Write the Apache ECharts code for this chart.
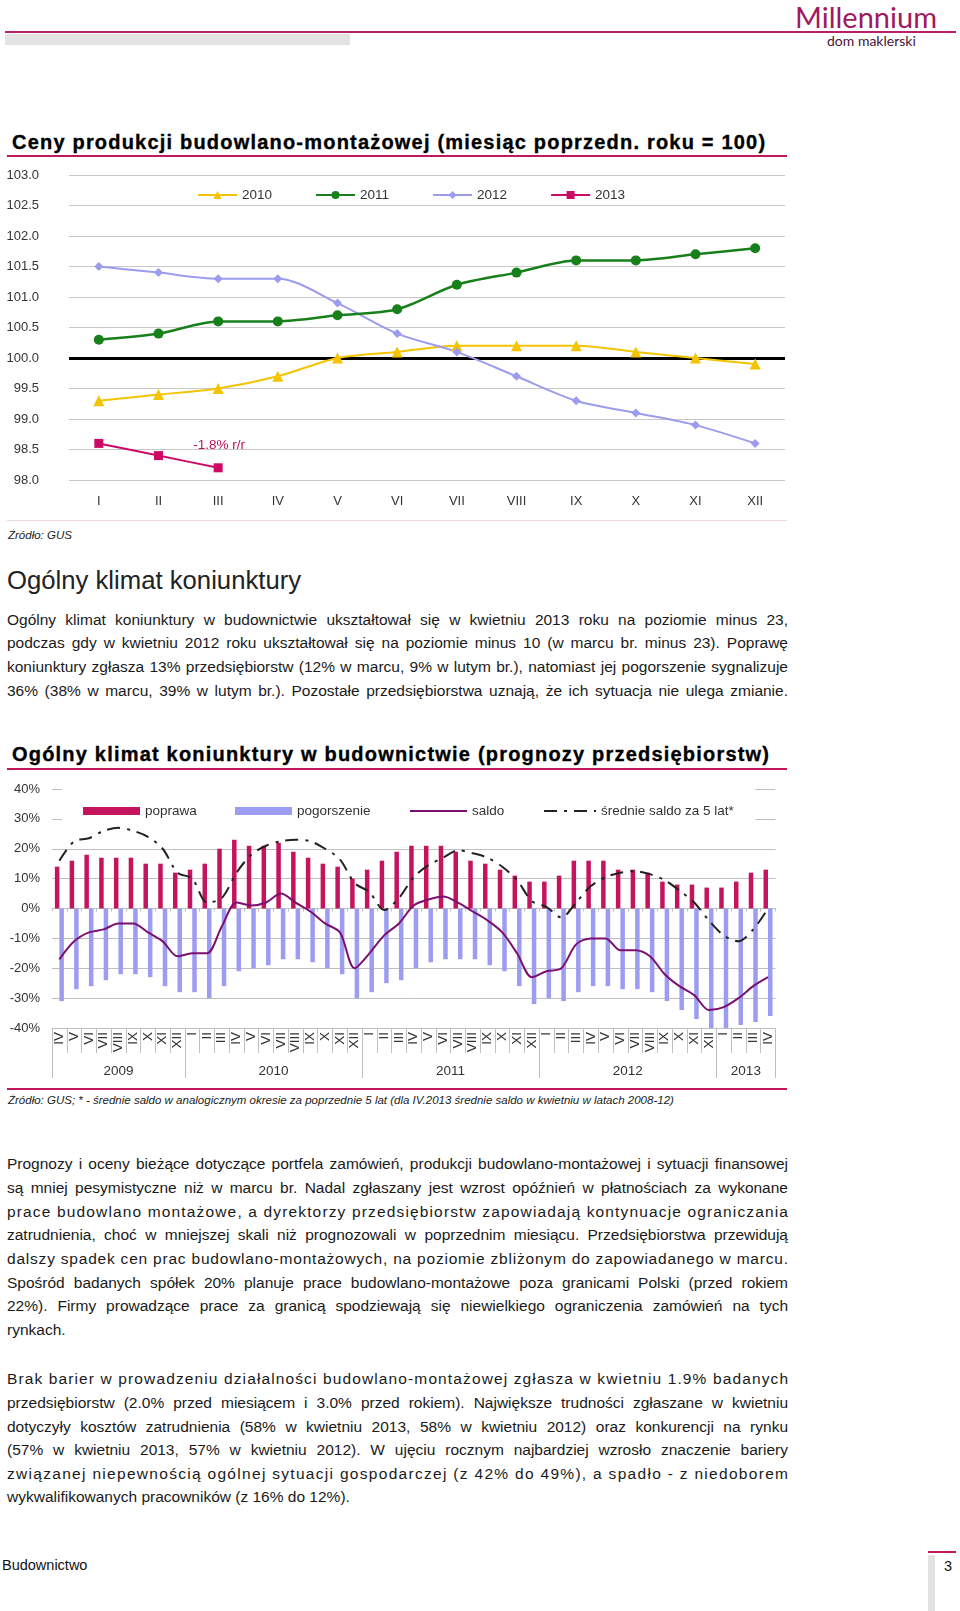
<!DOCTYPE html>
<html><head><meta charset="utf-8">
<script src="https://cdn.jsdelivr.net/npm/echarts/dist/echarts.min.js"></script>
<style>
body{margin:0;width:960px;height:1611px;position:relative;background:#fff;font-family:"Liberation Sans",Arial,sans-serif;color:#1a1a1a;overflow:hidden}
.abs{position:absolute;white-space:nowrap}
.title{position:absolute;left:12px;font-weight:bold;font-size:20px;letter-spacing:1.2px;color:#000;white-space:nowrap;line-height:24px;-webkit-text-stroke:0.35px #000}
.rule{position:absolute;left:7px;width:780px;height:2px;background:#C2185B}
.ln{position:absolute;left:7px;width:781px;font-size:15.5px;white-space:nowrap;line-height:20px;color:#1a1a1a}
.src{position:absolute;left:8px;font-size:11.5px;font-style:italic;color:#222;white-space:nowrap;line-height:14px}
</style></head>
<body>
<!-- header -->
<div class="abs" style="left:795px;top:1px;font-family:Lato,'Noto Sans',sans-serif;font-weight:400;font-size:29px;color:#A0185E;line-height:32px">Millennium</div>
<div style="position:absolute;left:5px;top:31px;width:951px;height:2px;background:#B8206A"></div>
<div style="position:absolute;left:5px;top:34px;width:345px;height:11px;background:#E3E3E3"></div>
<div class="abs" style="left:827px;top:33px;font-family:Lato,'Noto Sans',sans-serif;font-size:14px;color:#4a1535;line-height:15px">dom maklerski</div>

<!-- chart 1 -->
<div class="title" style="top:130px">Ceny produkcji budowlano-montażowej (miesiąc poprzedn. roku = 100)</div>
<div class="rule" style="top:155px"></div>
<div id="c1" style="position:absolute;left:0;top:160px;width:800px;height:358px"></div>
<div style="position:absolute;left:7px;top:520px;width:780px;height:1px;background:#EED8E4"></div>
<div class="src" style="top:528px">Źródło: GUS</div>

<div class="abs" style="left:7px;top:565px;font-size:25.7px;color:#222;line-height:30px">Ogólny klimat koniunktury</div>

<div class="ln jl" style="top:610px"><span>Ogólny klimat koniunktury w budownictwie ukształtował się w kwietniu 2013 roku na poziomie minus 23,</span></div>
<div class="ln jl" style="top:633px"><span>podczas gdy w kwietniu 2012 roku ukształtował się na poziomie minus 10 (w marcu br. minus 23). Poprawę</span></div>
<div class="ln jl" style="top:657px"><span>koniunktury zgłasza 13% przedsiębiorstw (12% w marcu, 9% w lutym br.), natomiast jej pogorszenie sygnalizuje</span></div>
<div class="ln jl" style="top:681px"><span>36% (38% w marcu, 39% w lutym br.). Pozostałe przedsiębiorstwa uznają, że ich sytuacja nie ulega zmianie.</span></div>

<!-- chart 2 -->
<div class="title" style="top:742px">Ogólny klimat koniunktury w budownictwie (prognozy przedsiębiorstw)</div>
<div class="rule" style="top:768px"></div>
<div id="c2" style="position:absolute;left:0;top:770px;width:800px;height:316px"></div>
<div class="rule" style="top:1088px"></div>
<div class="src" style="top:1093px">Źródło: GUS; * - średnie saldo w analogicznym okresie za poprzednie 5 lat (dla IV.2013 średnie saldo w kwietniu w latach 2008-12)</div>

<div class="ln jl" style="top:1154px"><span>Prognozy i oceny bieżące dotyczące portfela zamówień, produkcji budowlano-montażowej i sytuacji finansowej</span></div>
<div class="ln jl" style="top:1178px"><span>są mniej pesymistyczne niż w marcu br. Nadal zgłaszany jest wzrost opóźnień w płatnościach za wykonane</span></div>
<div class="ln jl ls" style="top:1202px"><span>prace budowlano montażowe, a dyrektorzy przedsiębiorstw zapowiadają kontynuacje ograniczania</span></div>
<div class="ln jl" style="top:1225px"><span>zatrudnienia, choć w mniejszej skali niż prognozowali w poprzednim miesiącu. Przedsiębiorstwa przewidują</span></div>
<div class="ln jl ls" style="top:1249px"><span>dalszy spadek cen prac budowlano-montażowych, na poziomie zbliżonym do zapowiadanego w marcu.</span></div>
<div class="ln jl" style="top:1273px"><span>Spośród badanych spółek 20% planuje prace budowlano-montażowe poza granicami Polski (przed rokiem</span></div>
<div class="ln jl" style="top:1296px"><span>22%). Firmy prowadzące prace za granicą spodziewają się niewielkiego ograniczenia zamówień na tych</span></div>
<div class="ln" style="top:1320px"><span>rynkach.</span></div>

<div class="ln jl ls" style="top:1369px"><span>Brak barier w prowadzeniu działalności budowlano-montażowej zgłasza w kwietniu 1.9% badanych</span></div>
<div class="ln jl" style="top:1393px"><span>przedsiębiorstw (2.0% przed miesiącem i 3.0% przed rokiem). Największe trudności zgłaszane w kwietniu</span></div>
<div class="ln jl" style="top:1417px"><span>dotyczyły kosztów zatrudnienia (58% w kwietniu 2013, 58% w kwietniu 2012) oraz konkurencji na rynku</span></div>
<div class="ln jl" style="top:1440px"><span>(57% w kwietniu 2013, 57% w kwietniu 2012). W ujęciu rocznym najbardziej wzrosło znaczenie bariery</span></div>
<div class="ln jl ls" style="top:1464px"><span>związanej niepewnością ogólnej sytuacji gospodarczej (z 42% do 49%), a spadło - z niedoborem</span></div>
<div class="ln" style="top:1487px"><span>wykwalifikowanych pracowników (z 16% do 12%).</span></div>

<!-- footer -->
<div class="abs" style="left:2px;top:1556px;font-size:14.5px;color:#111;line-height:18px">Budownictwo</div>
<div style="position:absolute;left:928px;top:1551px;width:28px;height:2px;background:#C2185B"></div>
<div style="position:absolute;left:928px;top:1555px;width:7px;height:56px;background:#E3E3E3"></div>
<div class="abs" style="left:944px;top:1557px;font-size:14.5px;color:#111;line-height:18px">3</div>

<script>
// ---------- DATA: chart 1 ----------
const months1 = ['I','II','III','IV','V','VI','VII','VIII','IX','X','XI','XII'];
const seriesNames1 = ['2010','2011','2012','2013'];
const y2010 = [99.3, 99.4, 99.5, 99.7, 100.0, 100.1, 100.2, 100.2, 100.2, 100.1, 100.0, 99.9];
const y2011 = [100.3, 100.4, 100.6, 100.6, 100.7, 100.8, 101.2, 101.4, 101.6, 101.6, 101.7, 101.8];
const y2012 = [101.5, 101.4, 101.3, 101.3, 100.9, 100.4, 100.1, 99.7, 99.3, 99.1, 98.9, 98.6];
const y2013 = [98.6, 98.4, 98.2];
const baseline1 = 100;
const annotation2013 = '-1.8% r/r';

// ---------- DATA: chart 2 ----------
const months2 = ['IV','V','VI','VII','VIII','IX','X','XI','XII',
  'I','II','III','IV','V','VI','VII','VIII','IX','X','XI','XII',
  'I','II','III','IV','V','VI','VII','VIII','IX','X','XI','XII',
  'I','II','III','IV','V','VI','VII','VIII','IX','X','XI','XII',
  'I','II','III','IV'];
const years2 = ['2009','2010','2011','2012','2013'];
const monthsPerYear2 = [9, 12, 12, 12, 4];
const poprawa = [14,16,18,17,17,17,15,15,12,
  13,15,20,23,21,21,22,19,17,15,14,10,
  13,16,19,21,21,21,19,16,15,13,11,9,
  9,11,16,16,16,13,13,12,9,8,8,7,
  7,9,12,13];
const pogorszenie = [-31,-27,-26,-24,-22,-22,-23,-26,-28,
  -28,-30,-26,-21,-20,-19,-17,-17,-18,-20,-22,-30,
  -28,-25,-24,-20,-18,-17,-17,-17,-19,-21,-26,-32,
  -30,-31,-28,-26,-26,-27,-27,-28,-31,-34,-37,-41,
  -40,-39,-38,-36];
const saldo = [-17,-11,-8,-7,-5,-5,-8,-11,-16,
  -15,-15,-6,2,1,2,5,2,-1,-5,-8,-20,
  -15,-9,-5,1,3,4,2,-1,-4,-8,-15,-23,
  -21,-20,-12,-10,-10,-14,-14,-16,-22,-26,-29,-34,
  -33,-30,-26,-23];
const srednie = [16,22.5,23.5,26,27,26,24,20,12,
  10,2,3.5,12,18,21,22.5,23,22.5,20,16.5,8.5,
  5.5,-0.5,3.5,10.5,14.5,17,19.5,18.5,17,14,9.5,2.5,
  0.5,-3,2,7.5,10.5,12,12.5,11.5,9.5,6,2,-4,
  -9,-11,-7,0];
const seriesNames2 = ['poprawa','pogorszenie','saldo','średnie saldo za 5 lat*'];

const FONT = '"Liberation Sans", Arial, sans-serif';

// ---------- chart 1 ----------
const c1 = echarts.init(document.getElementById('c1'), null, {renderer:'canvas'});
const col1 = ['#F5C400','#17801A','#9C9CEE','#CC0A66'];
const data2013 = y2013.map((v,i)=> i===y2013.length-1 ? {value:v, label:{show:true, formatter:annotation2013, position:'top', distance:11, offset:[1,0], color:'#C0105A', fontSize:13.5, fontFamily:FONT}} : v);
c1.setOption({
  animation:false,
  textStyle:{fontFamily:FONT},
  grid:{left:69, right:15, top:15, height:305, outerBoundsMode:'none', containLabel:false},
  legend:{data:seriesNames1, left:192, top:23, itemWidth:39, itemHeight:10, itemGap:43,
    textStyle:{fontSize:13.5, color:'#333', fontFamily:FONT}},
  xAxis:{type:'category', data:months1, boundaryGap:true, axisLine:{show:false, onZero:false}, axisTick:{show:false},
    axisLabel:{fontSize:13, color:'#333', margin:15}},
  yAxis:{type:'value', min:98, max:103, interval:0.5,
    axisLabel:{formatter:v=>v.toFixed(1), fontSize:13, color:'#333', margin:30},
    axisLine:{show:false}, axisTick:{show:false}, splitLine:{lineStyle:{color:'#C8C8C8', width:1}}},
  series:[
    {name:'2010', type:'line', data:y2010, smooth:0.3, symbol:'triangle', symbolSize:11,
      lineStyle:{color:col1[0], width:2}, itemStyle:{color:col1[0]}, z:3,
      markLine:{silent:true, symbol:'none', label:{show:false}, lineStyle:{color:'#000', width:3, type:'solid'}, data:[{yAxis:baseline1}], z:2}},
    {name:'2011', type:'line', data:y2011, smooth:0.3, symbol:'circle', symbolSize:10,
      lineStyle:{color:col1[1], width:2.5}, itemStyle:{color:col1[1]}, z:4},
    {name:'2012', type:'line', data:y2012, smooth:0.3, symbol:'diamond', symbolSize:9,
      lineStyle:{color:col1[2], width:2}, itemStyle:{color:col1[2]}, z:3},
    {name:'2013', type:'line', data:data2013, smooth:0.3, symbol:'rect', symbolSize:9,
      lineStyle:{color:col1[3], width:2}, itemStyle:{color:col1[3]}, z:5}
  ]
});

// ---------- chart 2 ----------
const W2 = 800, GL = 52, GR = 24.6;
const band = (W2 - GL - GR) / months2.length;
const yearAxisData = new Array(months2.length).fill('');
const yearBoundaries = new Set();
const halfIdx = new Set();
let start = 0;
years2.forEach((y,k)=>{
  const n = monthsPerYear2[k];
  yearBoundaries.add(start);
  const mid = start + (n-1)/2;
  const idx = Math.floor(mid);
  yearAxisData[idx] = y;
  if (mid !== idx) halfIdx.add(idx);
  start += n;
});
const gridColors = [];
for (let v=-40; v<=40; v+=10) gridColors.push(v>=30 ? 'rgba(0,0,0,0)' : '#BFBFBF');

const c2 = echarts.init(document.getElementById('c2'), null, {renderer:'canvas'});
const legText = {fontSize:13.5, color:'#333', fontFamily:FONT};
const hideSym = {color:'rgba(0,0,0,0)', borderWidth:0, opacity:0};
c2.setOption({
  animation:false,
  textStyle:{fontFamily:FONT},
  grid:{left:GL, right:GR, top:19, height:239, outerBoundsMode:'none', containLabel:false},
  legend:[
    {data:[{name:seriesNames2[0], icon:'rect'}], left:78, top:29, itemWidth:57, itemHeight:8, textStyle:legText},
    {data:[{name:seriesNames2[1], icon:'rect'}], left:230, top:29, itemWidth:57, itemHeight:8, textStyle:legText},
    {data:[{name:seriesNames2[2], itemStyle:hideSym}], left:404, top:29, itemWidth:57, itemHeight:8, itemStyle:hideSym, textStyle:legText},
    {data:[{name:seriesNames2[3], itemStyle:hideSym}], left:538, top:29, itemWidth:52, itemHeight:8, itemStyle:hideSym, textStyle:legText}
  ],
  xAxis:[
    {type:'category', data:months2, position:'bottom', boundaryGap:true,
      axisLine:{onZero:false, lineStyle:{color:'#BFBFBF', width:1}},
      axisTick:{show:true, interval:0, length:25, lineStyle:{color:'#BFBFBF'}},
      axisLabel:{interval:0, rotate:90, fontSize:13.5, color:'#333', margin:4}},
    {type:'category', data:yearAxisData, position:'bottom', boundaryGap:true,
      axisLine:{show:false, onZero:false},
      axisTick:{show:true, length:50, interval:(i)=>yearBoundaries.has(i), lineStyle:{color:'#BFBFBF'}},
      axisLabel:{interval:0, margin:36, fontSize:13.5, color:'#333',
        formatter:(v,i)=> v ? (halfIdx.has(i) ? '{h|'+v+'}' : '{n|'+v+'}') : '',
        rich:{h:{padding:[0,0,0,band], fontSize:13.5, color:'#333', fontFamily:FONT}, n:{fontSize:13.5, color:'#333', fontFamily:FONT}}}},
    {type:'category', data:months2, position:'bottom', boundaryGap:true,
      axisLine:{show:true, onZero:true, onZeroAxisIndex:0, lineStyle:{color:'#BFBFBF', width:1}},
      axisTick:{show:true, interval:0, length:3, lineStyle:{color:'#BFBFBF'}},
      axisLabel:{show:false}}
  ],
  yAxis:[
    {type:'value', min:-40, max:40, interval:10,
      axisLabel:{formatter:'{value}%', fontSize:13, color:'#333', margin:12},
      axisLine:{show:false, onZero:false}, axisTick:{show:true, inside:true, length:10, lineStyle:{color:'#BFBFBF'}},
      splitLine:{show:true, lineStyle:{color:gridColors, width:1}}},
    {type:'value', min:-40, max:40, interval:10, position:'right',
      axisLabel:{show:false}, axisLine:{show:false, onZero:false}, splitLine:{show:false},
      axisTick:{show:true, inside:true, length:20, lineStyle:{color:'#BFBFBF'}}}
  ],
  series:[
    {name:seriesNames2[0], type:'bar', data:poprawa, barWidth:4.5, barGap:'0%', itemStyle:{color:'#C4145E'}, z:2},
    {name:seriesNames2[1], type:'bar', data:pogorszenie, barWidth:4.5, barGap:'0%', itemStyle:{color:'#9C9CF2'}, z:2},
    {name:seriesNames2[2], type:'line', data:saldo, smooth:0.3, symbol:'none', showSymbol:false,
      lineStyle:{color:'#7B1070', width:2}, itemStyle:{color:'#7B1070'}, z:4},
    {name:seriesNames2[3], type:'line', data:srednie, smooth:0.3, symbol:'none', showSymbol:false,
      lineStyle:{color:'#222', width:2, type:[13,7,3,7]}, itemStyle:{color:'#222'}, z:5}
  ]
});

// ---------- justify text lines ----------
document.querySelectorAll('.jl').forEach(el=>{
  const span = el.firstElementChild;
  const w = span.getBoundingClientRect().width;
  const txt = span.textContent;
  if (el.classList.contains('ls')) {
    const n = txt.length - 1;
    span.style.letterSpacing = ((781 - w)/n) + 'px';
  } else {
    const n = (txt.match(/ /g)||[]).length;
    if (n>0) span.style.wordSpacing = ((781 - w)/n) + 'px';
  }
});
</script>
</body></html>
